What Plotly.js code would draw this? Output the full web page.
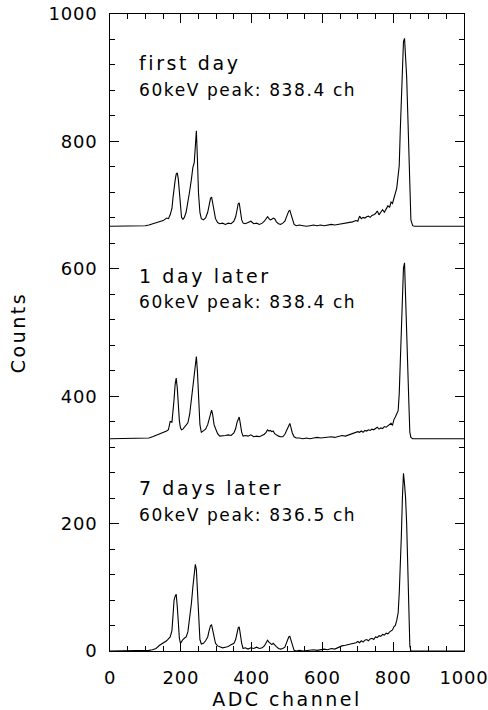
<!DOCTYPE html>
<html><head><meta charset="utf-8">
<script src="https://cdn.plot.ly/plotly-3.0.1.min.js"></script>
<style>html,body{margin:0;padding:0;background:#fff}</style>
</head><body><div id="chart" style="width:488px;height:710px"></div>
<script>
const channels = [0,20,40,60,80,100,110,120,130,140,150,160,165,170,175,178,181,184,187,190,193,196,199,202,206,210,215,220,225,230,234,238,241,244,247,250,254,258,264,270,276,280,284,287,290,294,298,304,310,318,326,334,342,350,355,359,362,365,368,372,376,382,390,398,406,414,422,430,436,441,445,449,453,457,461,465,470,476,482,488,494,498,502,505,508,511,515,520,526,535,545,555,565,575,585,595,605,615,625,635,645,655,665,675,685,695,700,705,710,715,720,725,730,735,740,745,750,755,760,765,770,775,780,785,790,794,798,802,806,810,814,817,820,823,826,829,832,835,838,841,844,847,850,855,860,870,880,900,920,940,960,980,1000];

const firstDay = [0,0,0,0,0,1,2,4,5,8,9,13,12,18,28,45,62,72,82,84,74,48,24,14,11,14,22,36,55,74,92,100,128,150,105,52,22,12,10,13,22,35,44,46,38,22,12,6,4,5,3,5,4,8,15,26,35,37,25,10,5,4,6,8,4,5,3,5,8,11,15,12,10,11,13,12,7,4,3,5,8,14,20,24,25,20,10,3,1,2,1,0,1,2,1,2,1,2,3,2,3,4,4,5,7,9,8,16,12,14,13,15,16,14,17,18,20,24,18,22,26,22,28,32,30,38,36,44,50,60,80,95,150,205,260,290,295,272,235,180,114,45,10,1,0,0,0,0,0,0,0,0,0];

const oneDayLater = [0,0,0,0,0,1,1,3,5,7,10,12,14,27,26,40,62,85,95,80,50,28,17,14,15,18,22,25,38,64,80,100,120,129,105,60,22,10,12,15,22,32,42,45,38,22,16,8,4,4,5,6,5,9,16,26,32,34,24,10,4,5,4,6,3,4,3,5,7,10,14,12,13,11,12,8,6,4,3,3,7,12,18,23,24,18,9,3,1,1,0,1,0,1,2,1,2,2,3,2,4,5,4,6,8,9,11,10,12,10,13,12,14,13,15,14,16,18,15,17,16,19,18,20,22,24,21,30,34,38,44,70,118,175,230,268,276,230,165,110,60,10,2,0,0,0,0,0,0,0,0,0,0];

const sevenDaysLater = [0,0,0,0,0,1,1,2,4,9,12,16,19,22,32,58,80,86,89,70,42,20,12,15,18,20,22,30,50,75,100,125,136,128,95,50,18,11,12,16,22,32,40,41,34,20,12,8,7,5,6,7,10,12,18,28,36,38,26,12,4,5,3,5,4,6,4,5,8,12,17,14,12,10,12,9,7,4,3,4,6,12,18,22,23,18,9,1,0,1,0,1,1,2,1,2,3,2,4,3,6,8,9,10,12,13,15,13,16,14,17,18,16,19,20,18,22,21,24,23,26,25,28,27,30,32,33,38,40,48,60,90,125,180,240,279,262,240,200,120,60,8,0,0,0,0,0,0,0,0,0,0,0];

const offsets = [666.7, 333.3, 0];
const spectra = [firstDay, oneDayLater, sevenDaysLater];
const dayLabels = ['first day', '1 day later', '7 days later'];
const peakLabels = ['60keV peak: 838.4 ch', '60keV peak: 838.4 ch', '60keV peak: 836.5 ch'];
const tickValues = [0, 200, 400, 600, 800, 1000];

const FONT = 'DejaVu Sans, Liberation Sans, sans-serif';

const traces = spectra.map((s, i) => ({
  x: channels,
  y: s.map(v => v + offsets[i]),
  type: 'scatter',
  mode: 'lines',
  line: {color: '#000', width: 1.1},
  hoverinfo: 'skip',
  showlegend: false
}));
// empty trace to bring up the mirrored (top/right) tick axes
traces.push({x: [], y: [], xaxis: 'x2', yaxis: 'y2', type: 'scatter', mode: 'lines', showlegend: false, hoverinfo: 'skip'});

const annotations = [];
dayLabels.forEach((t, i) => {
  annotations.push({x: 77, y: offsets[i] + 256, xref: 'x', yref: 'y', text: t, showarrow: false, align: 'left',
    xanchor: 'left', yanchor: 'middle', font: {family: FONT, size: 19, color: '#000'}});
  annotations.push({x: 77, y: offsets[i] + 214, xref: 'x', yref: 'y', text: peakLabels[i], showarrow: false, align: 'left',
    xanchor: 'left', yanchor: 'middle', font: {family: FONT, size: 17, color: '#000'}});
});

const axisCommon = {
  range: [0, 1000],
  tickmode: 'array',
  tickvals: tickValues,
  ticktext: tickValues.map(String),
  ticks: 'inside',
  ticklen: 9,
  tickwidth: 1,
  tickcolor: '#000',
  showgrid: false,
  zeroline: false,
  fixedrange: true,
  tickfont: {family: FONT, size: 18, color: '#000'}
};

const layout = {
  width: 488, height: 710,
  margin: {l: 110, r: 24, t: 14, b: 59},
  paper_bgcolor: '#fff', plot_bgcolor: '#fff',
  xaxis: Object.assign({}, axisCommon, {
    showline: true, linecolor: '#000', linewidth: 1, mirror: true,
    minor: {dtick: 50, tick0: 0, ticks: 'inside', ticklen: 5, tickwidth: 1, tickcolor: '#000', showgrid: false},
    ticklabelstandoff: 10,
    title: {text: 'ADC channel', font: {family: FONT, size: 19, color: '#000'}, standoff: 12}
  }),
  yaxis: Object.assign({}, axisCommon, {
    showline: true, linecolor: '#000', linewidth: 1, mirror: true,
    minor: {dtick: 40, tick0: 0, ticks: 'inside', ticklen: 5, tickwidth: 1, tickcolor: '#000', showgrid: false},
    ticklabelstandoff: 8,
    title: {text: 'Counts', font: {family: FONT, size: 19, color: '#000'}, standoff: 20}
  }),
  xaxis2: Object.assign({}, axisCommon, {
    overlaying: 'x', side: 'top', anchor: 'y', showticklabels: false, showline: false,
    minor: {dtick: 50, tick0: 0, ticks: 'inside', ticklen: 5, tickwidth: 1, tickcolor: '#000', showgrid: false}
  }),
  yaxis2: Object.assign({}, axisCommon, {
    overlaying: 'y', side: 'right', anchor: 'x', showticklabels: false, showline: false,
    minor: {dtick: 40, tick0: 0, ticks: 'inside', ticklen: 5, tickwidth: 1, tickcolor: '#000', showgrid: false}
  }),
  annotations: annotations
};

Plotly.newPlot('chart', traces, layout, {displayModeBar: false, staticPlot: true}).then(() => {
  document.querySelectorAll('#chart .xtitle, #chart .ytitle').forEach(t => t.style.letterSpacing = '2.5px');
  document.querySelectorAll('#chart .xtick text, #chart .ytick text').forEach(t => t.style.letterSpacing = '0.8px');
  document.querySelectorAll('#chart .annotation-text').forEach(t => {
    const s = t.textContent;
    t.style.letterSpacing = s.indexOf('60keV') === 0 ? '1.6px' : '2.6px';
  });
});
</script>
</body></html>
